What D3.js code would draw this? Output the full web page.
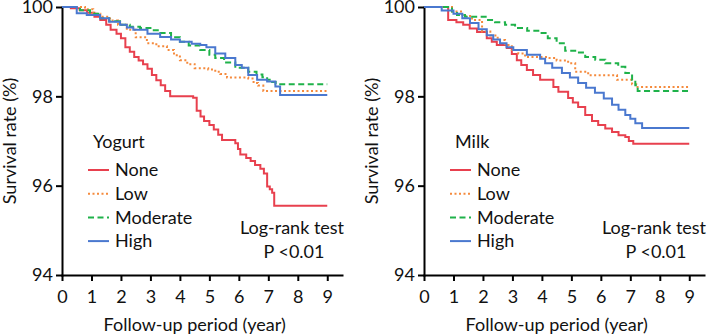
<!DOCTYPE html>
<html lang="en">
  <head>
    <meta charset="UTF-8" />
    <title>Survival by yogurt and milk intake</title>
    <script src="https://cdn.jsdelivr.net/npm/d3@7"></script>
    <style>
      body { margin: 0; background: #fff; }
      svg text { font-family: Lato, "Open Sans", sans-serif; fill: #111; }
      .axis path, .axis line { stroke: #000; stroke-width: 2px; }
      .axis text { font-size: 18px; }
      .curve { fill: none; stroke-width: 2px; }
    </style>
  </head>
  <body>
    <script>
      // [year, survival %] at each step
      var yogurtNone = [[0,100],[0.3,99.97],[0.6,99.93],[0.85,99.87],[1.1,99.78],[1.3,99.71],[1.5,99.6],[1.65,99.49],[1.85,99.4],[2.0,99.3],[2.15,99.1],[2.3,99.0],[2.45,98.88],[2.6,98.8],[2.75,98.72],[2.9,98.62],[3.05,98.48],[3.2,98.36],[3.35,98.25],[3.5,98.12],[3.67,98.0],[4.45,97.97],[4.57,97.68],[4.7,97.55],[4.82,97.45],[5.0,97.36],[5.15,97.26],[5.3,97.14],[5.43,97.02],[5.88,96.95],[5.97,96.82],[6.05,96.7],[6.25,96.62],[6.4,96.55],[6.55,96.46],[6.73,96.38],[6.85,96.27],[6.96,95.98],[7.05,95.92],[7.13,95.84],[7.2,95.55],[9,95.55]];
      var yogurtLow = [[0,100],[0.78,99.95],[1.06,99.85],[1.3,99.78],[1.63,99.7],[1.9,99.6],[2.2,99.49],[2.5,99.32],[2.88,99.19],[3.2,99.12],[3.56,99.04],[3.8,98.92],[4.0,98.81],[4.25,98.72],[4.5,98.63],[4.96,98.6],[5.2,98.55],[5.37,98.5],[5.6,98.42],[6.32,98.4],[6.5,98.3],[6.65,98.24],[6.83,98.12],[9,98.12]];
      var yogurtModerate = [[0,100],[0.61,99.93],[0.95,99.85],[1.29,99.75],[1.6,99.68],[1.97,99.6],[2.3,99.56],[2.65,99.53],[3.0,99.48],[3.33,99.42],[3.7,99.32],[4.0,99.22],[4.3,99.14],[4.69,99.04],[5.0,98.93],[5.2,98.86],[5.5,98.76],[5.88,98.64],[6.32,98.55],[6.6,98.49],[6.8,98.43],[6.96,98.37],[7.13,98.32],[7.25,98.27],[9,98.27]];
      var yogurtHigh = [[0,100],[0.5,99.86],[0.84,99.82],[1.29,99.75],[1.6,99.67],[1.97,99.6],[2.2,99.54],[2.42,99.49],[2.9,99.4],[3.33,99.33],[3.7,99.27],[4.0,99.22],[4.4,99.18],[4.69,99.15],[4.9,99.1],[5.2,98.96],[5.54,98.86],[5.88,98.7],[6.1,98.64],[6.32,98.48],[6.62,98.37],[6.96,98.33],[7.24,98.22],[7.4,98.03],[9,98.03]];

      var milkNone = [[0,100],[0.82,99.71],[1.1,99.66],[1.33,99.6],[1.55,99.52],[1.8,99.44],[2.13,99.3],[2.3,99.22],[2.47,99.15],[2.81,99.08],[2.98,98.95],[3.15,98.81],[3.3,98.7],[3.49,98.59],[3.7,98.48],[3.94,98.37],[4.39,98.21],[4.56,98.1],[4.89,97.96],[5.05,97.86],[5.23,97.76],[5.47,97.58],[5.7,97.45],[5.91,97.36],[6.15,97.28],[6.38,97.2],[6.6,97.13],[6.83,97.09],[6.95,97.0],[7.1,96.94],[9,96.94]];
      var milkLow = [[0,100],[0.95,99.9],[1.3,99.8],[1.63,99.71],[1.97,99.45],[2.25,99.36],[2.5,99.26],[2.75,99.15],[2.98,99.04],[3.2,98.96],[3.43,98.88],[4.2,98.86],[4.5,98.8],[4.89,98.74],[5.13,98.55],[5.57,98.47],[6.55,98.37],[7.06,98.27],[7.2,98.21],[9,98.21]];
      var milkModerate = [[0,100],[0.95,99.9],[1.12,99.82],[1.39,99.78],[2.13,99.71],[2.41,99.66],[2.75,99.6],[3.09,99.53],[3.5,99.47],[3.94,99.42],[4.2,99.3],[4.5,99.19],[4.79,99.02],[5.13,98.98],[5.47,98.88],[5.81,98.82],[6.15,98.74],[6.59,98.66],[6.83,98.52],[7.06,98.37],[7.17,98.25],[7.25,98.12],[9,98.12]];
      var milkHigh = [[0,100],[0.6,99.92],[1.0,99.85],[1.3,99.75],[1.56,99.64],[1.85,99.5],[2.13,99.37],[2.35,99.27],[2.58,99.19],[2.8,99.1],[3.03,99.04],[3.49,98.93],[3.94,98.84],[4.11,98.74],[4.35,98.64],[4.68,98.52],[4.95,98.42],[5.23,98.3],[5.5,98.19],[5.8,98.08],[6.1,97.95],[6.38,97.81],[6.6,97.7],[6.83,97.58],[7.0,97.5],[7.17,97.4],[7.4,97.29],[9,97.29]];

      var groups = ["None", "Low", "Moderate", "High"];
      var colors = ["#e8404e", "#f58a3c", "#1fb24a", "#4a78cf"];
      var dashes = [null, "2,2.5", "6,3.5", null];
      var xTicks = [0, 1, 2, 3, 4, 5, 6, 7, 8, 9];
      var yTicks = [94, 96, 98, 100];

      var panels = [
        { name: "Yogurt", left: 62, series: [yogurtNone, yogurtLow, yogurtModerate, yogurtHigh] },
        { name: "Milk", left: 424, series: [milkNone, milkLow, milkModerate, milkHigh] }
      ];

      var w = 709, h = 336;
      var marginTop = 7, plotW = 280, plotH = 268;

      var svg = d3.select("body").append("svg")
                  .attr("width", w)
                  .attr("height", h);

      var xScale = d3.scaleLinear().domain([0, 9.5]).range([0, plotW]);
      var yScale = d3.scaleLinear().domain([94, 100]).range([plotH, 0]);

      var line = d3.line()
                   .curve(d3.curveStepAfter)
                   .x(function(d) { return xScale(d[0]); })
                   .y(function(d) { return yScale(d[1]); });

      panels.forEach(function(p) {
        var g = svg.append("g")
                   .attr("transform", "translate(" + p.left + "," + marginTop + ")");

        g.append("g")
         .attr("class", "axis")
         .attr("transform", "translate(0," + plotH + ")")
         .call(d3.axisBottom(xScale).tickValues(xTicks).tickFormat(d3.format("d"))
                 .tickSize(6).tickPadding(9).tickSizeOuter(0));

        g.append("g")
         .attr("class", "axis")
         .call(d3.axisLeft(yScale).tickValues(yTicks).tickFormat(d3.format("d"))
                 .tickSize(6).tickPadding(3).tickSizeOuter(0));

        g.selectAll(".axis .domain").attr("stroke-linecap", "square");

        p.series.forEach(function(s, i) {
          g.append("path")
           .datum(s)
           .attr("class", "curve")
           .attr("stroke", colors[i])
           .attr("stroke-dasharray", dashes[i])
           .attr("d", line);
        });

        g.append("text")
         .attr("transform", "translate(" + (-46) + "," + (plotH / 2) + ") rotate(-90)")
         .attr("text-anchor", "middle")
         .attr("font-size", 18)
         .text("Survival rate (%)");

        g.append("text")
         .attr("x", xScale(4.5))
         .attr("y", plotH + 56)
         .attr("text-anchor", "middle")
         .attr("font-size", 18)
         .text("Follow-up period (year)");

        var lg = g.append("g").attr("transform", "translate(" + 26 + ",0)");
        lg.append("text")
          .attr("x", 5)
          .attr("y", 135)
          .attr("dy", "0.35em")
          .attr("font-size", 18)
          .text(p.name);

        groups.forEach(function(name, i) {
          var yy = 163 + i * 23.7;
          lg.append("line")
            .attr("x1", 0).attr("x2", 21)
            .attr("y1", yy).attr("y2", yy)
            .attr("stroke", colors[i])
            .attr("stroke-width", 2)
            .attr("stroke-dasharray", dashes[i]);
          lg.append("text")
            .attr("x", 27)
            .attr("y", yy)
            .attr("dy", "0.35em")
            .attr("font-size", 18)
            .text(name);
        });

        g.append("text")
         .attr("x", 230)
         .attr("y", 221)
         .attr("dy", "0.35em")
         .attr("text-anchor", "middle")
         .attr("font-size", 18)
         .text("Log-rank test");
        g.append("text")
         .attr("x", 232)
         .attr("y", 245)
         .attr("dy", "0.35em")
         .attr("text-anchor", "middle")
         .attr("font-size", 18)
         .text("P <0.01");
      });
    </script>
  </body>
</html>
